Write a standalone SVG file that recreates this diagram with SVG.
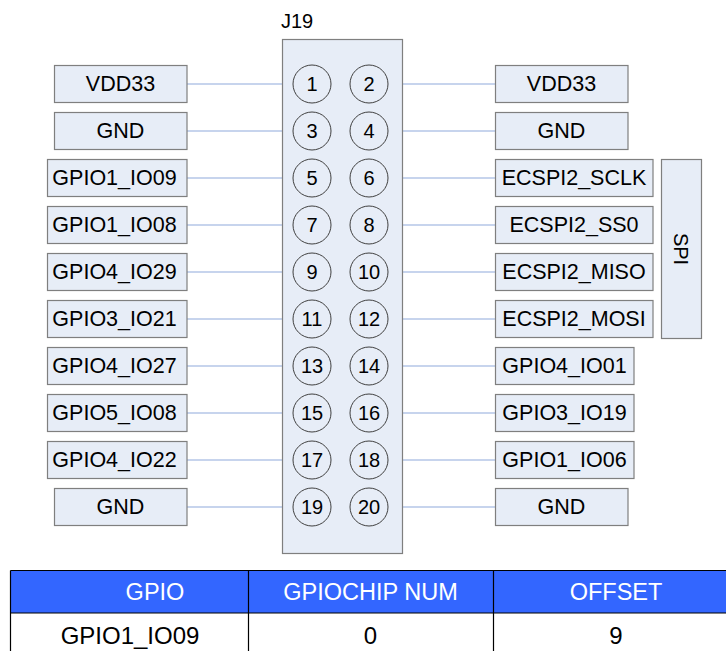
<svg xmlns="http://www.w3.org/2000/svg" width="726" height="651" viewBox="0 0 726 651">
<style>
.bx{fill:#E7EDF7;stroke:#7F7F7F;stroke-width:1.2}
.pin{fill:#E7EDF7;stroke:#404040;stroke-width:1}
.t{font-family:"Liberation Sans",Arial,sans-serif;font-size:21.5px;fill:#000;text-anchor:middle;dominant-baseline:central}
.n{font-family:"Liberation Sans",Arial,sans-serif;font-size:20px;fill:#000;text-anchor:middle;dominant-baseline:central}
.w{stroke:#8FAADC;stroke-width:1.2;fill:none}
.th{font-family:"Liberation Sans",Arial,sans-serif;font-size:23.5px;fill:#fff;text-anchor:middle}
.td{font-family:"Liberation Sans",Arial,sans-serif;font-size:24px;fill:#000;text-anchor:middle}
.g{stroke:#000;stroke-width:1.2;fill:none}
</style>
<rect width="726" height="651" fill="#fff"/>
<g id="connectors">
<path class="w" d="M187 84H292.5M187 131H292.5M187 178H292.5M187 225H292.5M187 272H292.5M187 319H292.5M187 366H292.5M187 413H292.5M187 460H292.5M187 507H292.5"/>
<path class="w" d="M388.5 84H495M388.5 131H495M388.5 178H495M388.5 225H495M388.5 272H495M388.5 319H495M388.5 366H495M388.5 413H495M388.5 460H495M388.5 507H495"/>
</g>
<g id="J19">
<text class="t" x="297" y="21" style="font-size:20px">J19</text>
<rect class="bx" x="282.5" y="39.5" width="120" height="514"/>
<circle class="pin" cx="312" cy="84" r="19"/><text class="n" x="312" y="84">1</text>
<circle class="pin" cx="369" cy="84" r="19"/><text class="n" x="369" y="84">2</text>
<circle class="pin" cx="312" cy="131" r="19"/><text class="n" x="312" y="131">3</text>
<circle class="pin" cx="369" cy="131" r="19"/><text class="n" x="369" y="131">4</text>
<circle class="pin" cx="312" cy="178" r="19"/><text class="n" x="312" y="178">5</text>
<circle class="pin" cx="369" cy="178" r="19"/><text class="n" x="369" y="178">6</text>
<circle class="pin" cx="312" cy="225" r="19"/><text class="n" x="312" y="225">7</text>
<circle class="pin" cx="369" cy="225" r="19"/><text class="n" x="369" y="225">8</text>
<circle class="pin" cx="312" cy="272" r="19"/><text class="n" x="312" y="272">9</text>
<circle class="pin" cx="369" cy="272" r="19"/><text class="n" x="369" y="272">10</text>
<circle class="pin" cx="312" cy="319" r="19"/><text class="n" x="312" y="319">11</text>
<circle class="pin" cx="369" cy="319" r="19"/><text class="n" x="369" y="319">12</text>
<circle class="pin" cx="312" cy="366" r="19"/><text class="n" x="312" y="366">13</text>
<circle class="pin" cx="369" cy="366" r="19"/><text class="n" x="369" y="366">14</text>
<circle class="pin" cx="312" cy="413" r="19"/><text class="n" x="312" y="413">15</text>
<circle class="pin" cx="369" cy="413" r="19"/><text class="n" x="369" y="413">16</text>
<circle class="pin" cx="312" cy="460" r="19"/><text class="n" x="312" y="460">17</text>
<circle class="pin" cx="369" cy="460" r="19"/><text class="n" x="369" y="460">18</text>
<circle class="pin" cx="312" cy="507" r="19"/><text class="n" x="312" y="507">19</text>
<circle class="pin" cx="369" cy="507" r="19"/><text class="n" x="369" y="507">20</text>
</g>
<g id="L1"><rect class="bx" x="54.5" y="65.5" width="132.5" height="37"/><text class="t" x="120.5" y="84">VDD33</text></g>
<g id="L3"><rect class="bx" x="54.5" y="112.5" width="132.5" height="37"/><text class="t" x="120.5" y="131">GND</text></g>
<g id="L5"><rect class="bx" x="47.5" y="159.5" width="139.5" height="37"/><text class="t" x="114.5" y="178">GPIO1_IO09</text></g>
<g id="L7"><rect class="bx" x="47.5" y="206.5" width="139.5" height="37"/><text class="t" x="114.5" y="225">GPIO1_IO08</text></g>
<g id="L9"><rect class="bx" x="47.5" y="253.5" width="139.5" height="37"/><text class="t" x="114.5" y="272">GPIO4_IO29</text></g>
<g id="L11"><rect class="bx" x="47.5" y="300.5" width="139.5" height="37"/><text class="t" x="114.5" y="319">GPIO3_IO21</text></g>
<g id="L13"><rect class="bx" x="47.5" y="347.5" width="139.5" height="37"/><text class="t" x="114.5" y="366">GPIO4_IO27</text></g>
<g id="L15"><rect class="bx" x="47.5" y="394.5" width="139.5" height="37"/><text class="t" x="114.5" y="413">GPIO5_IO08</text></g>
<g id="L17"><rect class="bx" x="47.5" y="441.5" width="139.5" height="37"/><text class="t" x="114.5" y="460">GPIO4_IO22</text></g>
<g id="L19"><rect class="bx" x="54.5" y="488.5" width="132.5" height="37"/><text class="t" x="120.5" y="507">GND</text></g>
<g id="R2"><rect class="bx" x="495.5" y="65.5" width="132.5" height="37"/><text class="t" x="561.5" y="84">VDD33</text></g>
<g id="R4"><rect class="bx" x="495.5" y="112.5" width="132.5" height="37"/><text class="t" x="561.5" y="131">GND</text></g>
<g id="R6"><rect class="bx" x="495.5" y="159.5" width="157.5" height="37"/><text class="t" x="574" y="178">ECSPI2_SCLK</text></g>
<g id="R8"><rect class="bx" x="495.5" y="206.5" width="157.5" height="37"/><text class="t" x="574" y="225">ECSPI2_SS0</text></g>
<g id="R10"><rect class="bx" x="495.5" y="253.5" width="157.5" height="37"/><text class="t" x="574" y="272">ECSPI2_MISO</text></g>
<g id="R12"><rect class="bx" x="495.5" y="300.5" width="157.5" height="37"/><text class="t" x="574" y="319">ECSPI2_MOSI</text></g>
<g id="R14"><rect class="bx" x="495.5" y="347.5" width="138.5" height="37"/><text class="t" x="564.5" y="366">GPIO4_IO01</text></g>
<g id="R16"><rect class="bx" x="495.5" y="394.5" width="138.5" height="37"/><text class="t" x="564.5" y="413">GPIO3_IO19</text></g>
<g id="R18"><rect class="bx" x="495.5" y="441.5" width="138.5" height="37"/><text class="t" x="564.5" y="460">GPIO1_IO06</text></g>
<g id="R20"><rect class="bx" x="495.5" y="488.5" width="132.5" height="37"/><text class="t" x="561.5" y="507">GND</text></g>
<g id="SPI"><rect class="bx" x="661.5" y="159.5" width="40" height="179"/><text class="t" x="681" y="249" style="font-size:20px" transform="rotate(90 681 249)">SPI</text></g>
<g id="table">
<rect x="10.5" y="570.5" width="720" height="42.5" fill="#3366FF"/>
<path class="g" d="M10.5 570.5H730M10.5 613H730M10.5 570.5V655M248.5 570.5V655M493.5 570.5V655"/>
<text class="th" x="155" y="600">GPIO</text>
<text class="th" x="370.5" y="600">GPIOCHIP NUM</text>
<text class="th" x="616" y="600">OFFSET</text>
<text class="td" x="130" y="644">GPIO1_IO09</text>
<text class="td" x="370.5" y="644">0</text>
<text class="td" x="616" y="644">9</text>
</g>
</svg>
